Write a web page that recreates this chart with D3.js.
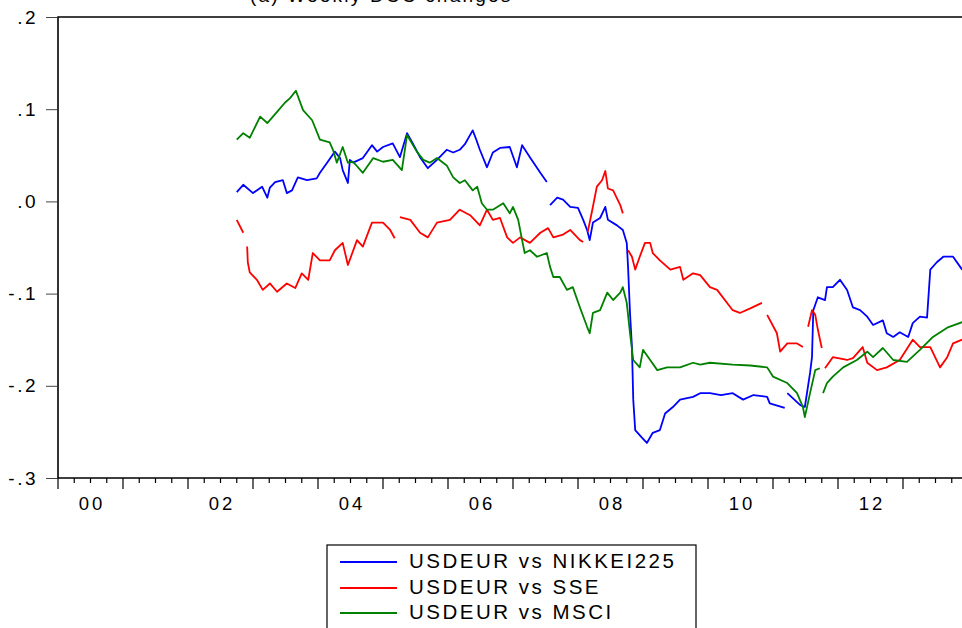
<!DOCTYPE html>
<html>
<head>
<meta charset="utf-8">
<script src="https://cdn.jsdelivr.net/npm/d3@7"></script>
<style>
  body { margin: 0; background: #fff; }
  text { font-family: Arial, "Liberation Sans", sans-serif; fill: #000; }
</style>
</head>
<body>
<div id="chart"></div>
<script>
// Chart size, same as the window;
var width = 962
var height = 628

// Plot frame (pixels);
var left = 58, top_ = 17, bottom = 478
var pxPerYear = 65

// Tick labels;
const yTickValues = [0.2, 0.1, 0.0, -0.1, -0.2, -0.3]
const yTickLabels = [".2", ".1", ".0", "-.1", "-.2", "-.3"]
const xLabelYears = [2000, 2002, 2004, 2006, 2008, 2010, 2012]
const xLabels = ["00", "02", "04", "06", "08", "10", "12"]

// Series names and colours;
const seriesNames = ["USDEUR vs NIKKEI225", "USDEUR vs SSE", "USDEUR vs MSCI"]
const seriesColors = ["#0000ff", "#ff0000", "#008000"]

// Values: [year, correlation], null = missing (gap);
const nikkei225 = [
  [2002.75, 0.010], [2002.85, 0.018], [2003.00, 0.009], [2003.14, 0.016], [2003.22, 0.004],
  [2003.26, 0.015], [2003.34, 0.021], [2003.46, 0.023], [2003.52, 0.009], [2003.60, 0.012],
  [2003.69, 0.026], [2003.83, 0.023], [2003.98, 0.025], [2004.03, 0.031], [2004.14, 0.042],
  [2004.26, 0.054], [2004.34, 0.047], [2004.38, 0.034], [2004.46, 0.020], [2004.49, 0.045],
  [2004.54, 0.042], [2004.69, 0.047], [2004.83, 0.061], [2004.91, 0.054], [2005.00, 0.059],
  [2005.15, 0.063], [2005.26, 0.048], [2005.37, 0.074], [2005.45, 0.064], [2005.57, 0.048],
  [2005.69, 0.036], [2005.83, 0.045], [2005.98, 0.056], [2006.08, 0.053], [2006.18, 0.056],
  [2006.26, 0.062], [2006.38, 0.077], [2006.43, 0.068], [2006.49, 0.056], [2006.60, 0.037],
  [2006.69, 0.053], [2006.80, 0.058], [2006.95, 0.059], [2007.06, 0.037], [2007.14, 0.061],
  [2007.26, 0.048], [2007.42, 0.031], [2007.52, 0.021], [2007.54, null], [2007.57, -0.004],
  [2007.68, 0.004], [2007.77, 0.002], [2007.88, -0.006], [2008.00, -0.007], [2008.08, -0.020],
  [2008.14, -0.031], [2008.18, -0.042], [2008.23, -0.023], [2008.34, -0.018], [2008.42, -0.006],
  [2008.46, -0.020], [2008.60, -0.026], [2008.69, -0.031], [2008.75, -0.045], [2008.77, -0.071],
  [2008.80, -0.121], [2008.83, -0.158], [2008.85, -0.215], [2008.88, -0.248], [2008.98, -0.256],
  [2009.06, -0.262], [2009.15, -0.251], [2009.26, -0.248], [2009.34, -0.230], [2009.46, -0.223],
  [2009.57, -0.215], [2009.77, -0.212], [2009.88, -0.208], [2010.03, -0.208], [2010.20, -0.210],
  [2010.38, -0.208], [2010.54, -0.215], [2010.70, -0.210], [2010.91, -0.212], [2010.95, -0.219],
  [2011.18, -0.224], [2011.20, null], [2011.22, -0.208], [2011.42, -0.221], [2011.49, -0.223],
  [2011.57, -0.186], [2011.60, -0.169], [2011.62, -0.118], [2011.69, -0.104], [2011.80, -0.107],
  [2011.83, -0.093], [2011.92, -0.093], [2012.03, -0.085], [2012.14, -0.096], [2012.23, -0.115],
  [2012.34, -0.118], [2012.45, -0.125], [2012.54, -0.134], [2012.69, -0.129], [2012.75, -0.143],
  [2012.85, -0.147], [2012.95, -0.142], [2013.08, -0.147], [2013.15, -0.132], [2013.26, -0.125],
  [2013.37, -0.126], [2013.42, -0.074], [2013.52, -0.066], [2013.62, -0.060], [2013.77, -0.060],
  [2013.91, -0.074]
]

const sse = [
  [2002.75, -0.020], [2002.85, -0.034], [2002.88, null], [2002.91, -0.049], [2002.92, -0.066],
  [2002.95, -0.077], [2003.06, -0.085], [2003.15, -0.096], [2003.26, -0.089], [2003.37, -0.098],
  [2003.52, -0.089], [2003.65, -0.094], [2003.75, -0.078], [2003.85, -0.085], [2003.92, -0.056],
  [2004.03, -0.064], [2004.18, -0.064], [2004.26, -0.053], [2004.38, -0.045], [2004.46, -0.069],
  [2004.60, -0.042], [2004.69, -0.049], [2004.83, -0.023], [2005.00, -0.023], [2005.11, -0.031],
  [2005.18, -0.040], [2005.22, null], [2005.26, -0.017], [2005.42, -0.020], [2005.57, -0.034],
  [2005.69, -0.039], [2005.83, -0.023], [2006.03, -0.020], [2006.18, -0.009], [2006.34, -0.015],
  [2006.49, -0.026], [2006.60, -0.009], [2006.69, -0.020], [2006.80, -0.018], [2006.91, -0.039],
  [2007.00, -0.045], [2007.11, -0.039], [2007.26, -0.045], [2007.42, -0.034], [2007.54, -0.029],
  [2007.62, -0.039], [2007.77, -0.036], [2007.88, -0.031], [2008.03, -0.042], [2008.08, -0.044],
  [2008.11, null], [2008.15, -0.033], [2008.22, -0.009], [2008.29, 0.016], [2008.37, 0.023],
  [2008.42, 0.033], [2008.46, 0.014], [2008.54, 0.012], [2008.65, -0.004], [2008.69, -0.013],
  [2008.73, null], [2008.77, -0.053], [2008.83, -0.060], [2008.88, -0.074], [2008.95, -0.060],
  [2009.03, -0.045], [2009.11, -0.045], [2009.15, -0.056], [2009.26, -0.064], [2009.42, -0.074],
  [2009.57, -0.071], [2009.62, -0.085], [2009.77, -0.078], [2009.88, -0.080], [2010.03, -0.093],
  [2010.14, -0.096], [2010.38, -0.118], [2010.49, -0.121], [2010.65, -0.116], [2010.83, -0.110],
  [2010.87, null], [2010.91, -0.123], [2011.06, -0.143], [2011.11, -0.163], [2011.22, -0.154],
  [2011.37, -0.154], [2011.46, -0.158], [2011.50, null], [2011.54, -0.136], [2011.60, -0.118],
  [2011.65, -0.123], [2011.69, -0.139], [2011.75, -0.159], [2011.77, null], [2011.80, -0.181],
  [2011.92, -0.169], [2012.14, -0.172], [2012.23, -0.170], [2012.38, -0.158], [2012.45, -0.175],
  [2012.60, -0.183], [2012.75, -0.180], [2012.95, -0.172], [2013.15, -0.150], [2013.26, -0.158],
  [2013.42, -0.158], [2013.57, -0.180], [2013.68, -0.169], [2013.77, -0.154], [2013.91, -0.150]
]

const msci = [
  [2002.75, 0.067], [2002.85, 0.074], [2002.95, 0.069], [2003.11, 0.092], [2003.22, 0.085],
  [2003.37, 0.097], [2003.49, 0.107], [2003.57, 0.112], [2003.66, 0.120], [2003.77, 0.099],
  [2003.91, 0.088], [2004.03, 0.067], [2004.18, 0.064], [2004.23, 0.056], [2004.29, 0.042],
  [2004.38, 0.059], [2004.46, 0.042], [2004.54, 0.043], [2004.69, 0.031], [2004.85, 0.047],
  [2005.00, 0.043], [2005.15, 0.045], [2005.29, 0.034], [2005.37, 0.072], [2005.52, 0.054],
  [2005.62, 0.045], [2005.72, 0.042], [2005.83, 0.047], [2005.98, 0.039], [2006.08, 0.026],
  [2006.18, 0.020], [2006.26, 0.023], [2006.38, 0.012], [2006.45, 0.016], [2006.52, -0.002],
  [2006.60, -0.009], [2006.69, -0.009], [2006.85, -0.002], [2006.95, -0.013], [2007.00, -0.006],
  [2007.08, -0.020], [2007.14, -0.042], [2007.18, -0.056], [2007.26, -0.053], [2007.37, -0.060],
  [2007.52, -0.056], [2007.57, -0.071], [2007.62, -0.082], [2007.72, -0.082], [2007.83, -0.096],
  [2007.92, -0.093], [2008.03, -0.115], [2008.14, -0.136], [2008.18, -0.143], [2008.23, -0.121],
  [2008.34, -0.118], [2008.45, -0.099], [2008.54, -0.107], [2008.65, -0.099], [2008.69, -0.093],
  [2008.75, -0.110], [2008.80, -0.143], [2008.85, -0.172], [2008.95, -0.180], [2009.00, -0.161],
  [2009.11, -0.172], [2009.22, -0.183], [2009.37, -0.180], [2009.57, -0.180], [2009.77, -0.175],
  [2009.88, -0.177], [2010.03, -0.175], [2010.38, -0.177], [2010.65, -0.178], [2010.91, -0.180],
  [2011.00, -0.190], [2011.22, -0.197], [2011.37, -0.208], [2011.46, -0.223], [2011.49, -0.234],
  [2011.57, -0.208], [2011.65, -0.183], [2011.72, -0.181], [2011.75, null], [2011.77, -0.208],
  [2011.83, -0.197], [2011.92, -0.190], [2012.08, -0.180], [2012.29, -0.172], [2012.45, -0.163],
  [2012.54, -0.169], [2012.69, -0.159], [2012.85, -0.172], [2013.06, -0.174], [2013.26, -0.161],
  [2013.46, -0.147], [2013.68, -0.137], [2013.91, -0.131]
]

const allSeries = [nikkei225, sse, msci]

/////////////////////////////
/////////////////////////////

const svg = d3.select("#chart").append("svg")
    .attr("width", width)
    .attr("height", height)

// Scales;
const x = d3.scaleLinear()
    .domain([2000, 2014])
    .range([left, left + 14 * pxPerYear])
const y = d3.scaleLinear()
    .domain([-0.3, 0.2])
    .range([bottom, top_])

// Title: the reference shows only its lowest pixels, the rest is cut by the top edge;
svg.append("text")
    .attr("x", 250)
    .attr("y", 2)
    .attr("font-size", 19)
    .attr("letter-spacing", 2.2)
    .text("(a) Weekly DCC changes")

// Clip lines to the plot frame;
svg.append("clipPath").attr("id", "plotClip")
    .append("rect")
    .attr("x", left).attr("y", top_)
    .attr("width", x.range()[1] - left).attr("height", bottom - top_)

const line = d3.line()
    .defined(d => d[1] !== null)
    .x(d => x(d[0]))
    .y(d => y(d[1]))

svg.append("g")
    .attr("clip-path", "url(#plotClip)")
    .selectAll("path")
    .data(allSeries)
    .join("path")
    .attr("fill", "none")
    .attr("stroke", (d, i) => seriesColors[i])
    .attr("stroke-width", 1.8)
    .attr("stroke-linejoin", "round")
    .attr("d", line)

// Frame: left, top and bottom lines;
svg.append("path")
    .attr("d", `M${x.range()[1]},${top_}H${left}V${bottom}H${x.range()[1]}`)
    .attr("fill", "none")
    .attr("stroke", "#000")
    .attr("stroke-width", 1.6)

// Y axis;
const yAxis = d3.axisLeft(y)
    .tickValues(yTickValues)
    .tickSize(11)
    .tickPadding(8)
    .tickFormat((d, i) => yTickLabels[i])
svg.append("g")
    .attr("transform", `translate(${left - 1},0)`)
    .call(yAxis)
    .call(g => g.select(".domain").remove())
    .call(g => g.selectAll("line").attr("stroke", "#444"))
    .call(g => g.selectAll("text")
        .attr("font-size", 19)
        .attr("letter-spacing", 2.5)
        .attr("font-family", "Arial, 'Liberation Sans', sans-serif"))

// X axis: quarterly minor ticks, yearly major ticks, labels centred in the year;
const quarters = d3.range(2000, 2014.01, 0.25)
svg.append("g")
    .selectAll("line")
    .data(quarters)
    .join("line")
    .attr("x1", d => x(d)).attr("x2", d => x(d))
    .attr("y1", bottom)
    .attr("y2", d => Math.abs(d - Math.round(d)) < 1e-6 ? bottom + 11 : bottom + 5)
    .attr("stroke", "#000")
    .attr("stroke-width", 1.2)

svg.append("g")
    .selectAll("text")
    .data(xLabelYears)
    .join("text")
    .attr("x", d => x(d + 0.5) + 1.5)
    .attr("y", 510)
    .attr("text-anchor", "middle")
    .attr("font-size", 18.5)
    .attr("letter-spacing", 3)
    .text((d, i) => xLabels[i])

// Legend box;
const legend = svg.append("g")
legend.append("rect")
    .attr("x", 327).attr("y", 545)
    .attr("width", 369).attr("height", 100)
    .attr("fill", "#fff")
    .attr("stroke", "#000")
    .attr("stroke-width", 1.2)

const rowY = [562, 588, 613]
legend.selectAll("line")
    .data(seriesNames)
    .join("line")
    .attr("x1", 340).attr("x2", 397)
    .attr("y1", (d, i) => rowY[i]).attr("y2", (d, i) => rowY[i])
    .attr("stroke", (d, i) => seriesColors[i])
    .attr("stroke-width", 1.8)

legend.selectAll("text")
    .data(seriesNames)
    .join("text")
    .attr("x", 409)
    .attr("y", (d, i) => rowY[i] + 6)
    .attr("font-size", 20.5)
    .attr("letter-spacing", 2.5)
    .text(d => d)
</script>
</body>
</html>
